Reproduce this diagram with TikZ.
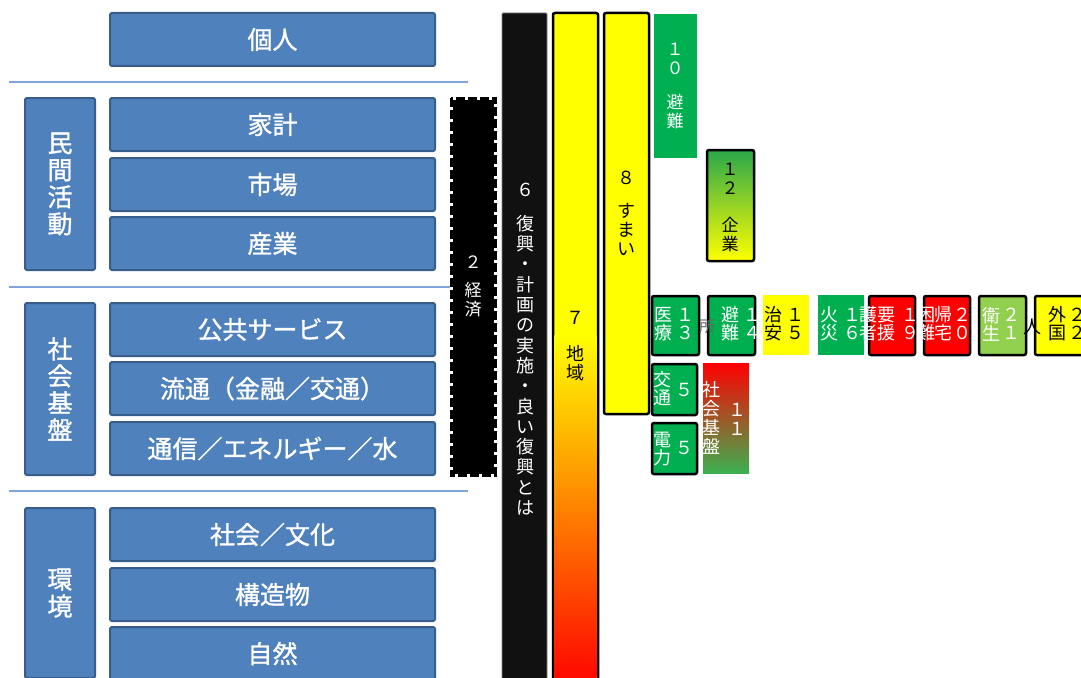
\documentclass[tikz,border=0pt]{standalone}
\usepackage{fontspec}
\newfontfamily\jp{Noto Sans CJK JP}
\newfontfamily\jpb[FakeBold=1.2]{Noto Sans CJK JP}
\definecolor{bfill}{HTML}{4F81BD}
\definecolor{bdraw}{HTML}{385D8A}
\definecolor{lline}{HTML}{7EA6DC}
\definecolor{gfill}{HTML}{00B050}
\definecolor{lgfill}{HTML}{92D050}
\definecolor{yfill}{HTML}{FFFF00}
\definecolor{rfill}{HTML}{FF0000}
\definecolor{nblack}{HTML}{111111}
\definecolor{orng}{HTML}{FF9500}
\definecolor{egreen}{HTML}{2BA84A}
\definecolor{sgreen}{HTML}{3CB050}
\tikzset{
  base/.style={anchor=north west, inner sep=0pt, outer sep=0pt},
  bbox/.style={base, draw=bdraw, line width=2pt, fill=bfill, rounded corners=2pt,
    text=white, font=\jpb\fontsize{25}{28}\selectfont},
  lbox/.style={bbox, align=center, font=\jpb\fontsize{25}{27}\selectfont},
  kbox/.style={base, draw=black, line width=2.5pt, rounded corners=2pt},
  fbox/.style={base},
  vt/.style={align=center, inner sep=0pt, font=\jp\fontsize{17}{19}\selectfont},
  vw/.style={vt, text=white},
  vk/.style={vt, text=black},
  rowt/.style={font=\jp\fontsize{18}{18}\selectfont},
  sepline/.style={lline, line width=1.5pt}
}
\begin{document}
\begin{tikzpicture}[x=1pt,y=-1pt]
\clip (0,0) rectangle (1081,677);
\fill[white] (0,0) rectangle (1081,677);

% left blue blocks
\node[bbox, minimum width=325pt, minimum height=53pt] (kojin) at (110,13) {個人};
\node[bbox, minimum width=325pt, minimum height=53pt] (kakei) at (110,98) {家計};
\node[bbox, minimum width=325pt, minimum height=53pt] (shijo) at (110,158) {市場};
\node[bbox, minimum width=325pt, minimum height=53pt] (sangyo) at (110,217) {産業};
\node[bbox, minimum width=325pt, minimum height=53pt] (kokyo) at (110,303) {公共サービス};
\node[bbox, minimum width=325pt, minimum height=53pt] (ryutsu) at (110,362) {流通（金融／交通）};
\node[bbox, minimum width=325pt, minimum height=53pt] (tsushin) at (110,422) {通信／エネルギー／水};
\node[bbox, minimum width=325pt, minimum height=53pt] (bunka) at (110,508) {社会／文化};
\node[bbox, minimum width=325pt, minimum height=53pt] (kozo) at (110,568) {構造物};
\node[bbox, minimum width=325pt, minimum height=53pt] (shizen) at (110,627) {自然};

\node[lbox, minimum width=70pt, minimum height=172pt] (minkan) at (25,98) {民\\間\\活\\動};
\node[lbox, minimum width=70pt, minimum height=172pt] (kiban) at (25,303) {社\\会\\基\\盤};
\node[lbox, minimum width=70pt, minimum height=170pt] (kankyo) at (25,508) {環\\境};

\draw[sepline] (9,82) -- (468,82);
\draw[sepline] (9,287) -- (468,287);
\draw[sepline] (9,491) -- (468,491);

% 2 keizai
\node[base, fill=black, draw=white, line width=3pt, minimum width=44pt, minimum height=377pt] (keizai) at (451,98) {};
\draw[black, line width=3pt, dash pattern=on 9pt off 3pt] (keizai.north west) rectangle (keizai.south east);
\node[vw] (k2n) at (473,262) {２};
\node[vw] (k2t) at (473,300) {経\\済};

% 6 fukko
\node[base, fill=nblack, draw=gray, line width=0.8pt, rounded corners=1pt, minimum width=45pt, minimum height=680pt] (b6) at (502,13) {};
\node[vw, font=\jp\fontsize{18}{20.3}\selectfont] (t6n) at (525,190) {６};
\node[vw, font=\jp\fontsize{18}{20.3}\selectfont, anchor=north] (t6) at (525,215) {復\\興\\・\\計\\画\\の\\実\\施\\・\\良\\い\\復\\興\\と\\は};

% 7 chiiki
\node[kbox, fill=yfill, minimum width=45pt, minimum height=680pt] (b7) at (553,13) {};
\shade[top color=yfill, middle color=orng, bottom color=rfill] (554.3,335) rectangle (596.7,690);
\draw[black, line width=2.5pt] (b7.north west) -- (b7.south west) (b7.north east) -- (b7.south east);
\node[vk, font=\jp\fontsize{18}{19}\selectfont] (t7n) at (575,318) {７};
\node[vk, font=\jp\fontsize{18}{19}\selectfont] (t7) at (575,363) {地\\域};

% 8 sumai
\node[kbox, fill=yfill, minimum width=45pt, minimum height=401pt] (b8) at (604,13) {};
\node[vk, font=\jp\fontsize{18}{19}\selectfont] (t8n) at (626,178) {８};
\node[vk, font=\jp\fontsize{18}{19}\selectfont] (t8) at (626,229) {す\\ま\\い};

% 10 hinan
\node[fbox, fill=gfill, minimum width=43pt, minimum height=144pt] (b10) at (654,14) {};
\node[vw] (t10n) at (675,59) {１\\０};
\node[vw] (t10) at (675,112) {避\\難};

% 12 kigyo
\node[kbox, top color=egreen, bottom color=yfill, minimum width=47pt, minimum height=111pt] (b12) at (707,150) {};
\node[vk] (t12n) at (730,179) {１\\２};
\node[vk] (t12) at (730,235) {企\\業};

% row of small boxes
\node[kbox, fill=gfill, minimum width=47pt, minimum height=59pt] (b13) at (652,296) {};
\node[vw, rowt] (t13a) at (663,324) {医\\療};
\node[vw, rowt] (t13b) at (685,324) {１\\３};

\node[kbox, fill=gfill, minimum width=47pt, minimum height=59pt] (b14) at (708,296) {};
\node[vt, text=black!60, font=\jp\fontsize{16}{18}\selectfont] (t14x) at (707,327) {所};
\node[vw, rowt] (t14a) at (730,324) {避\\難};
\node[vw, rowt] (t14b) at (752,324) {１\\４};

\node[fbox, fill=yfill, minimum width=46pt, minimum height=60pt] (b15) at (763,295) {};
\node[vk, rowt] (t15a) at (773,324) {治\\安};
\node[vk, rowt] (t15b) at (795,324) {１\\５};

\node[fbox, fill=gfill, minimum width=46pt, minimum height=60pt] (b16) at (818,295) {};
\node[vw, rowt] (t16a) at (829,324) {火\\災};
\node[vw, rowt] (t16b) at (852,324) {１\\６};

\node[kbox, fill=rfill, minimum width=46pt, minimum height=59pt] (b19) at (869,296) {};
\node[vw, rowt] (t19x) at (868,324) {護\\者};
\node[vw, rowt] (t19a) at (886,324) {要\\援};
\node[vw, rowt] (t19b) at (910,324) {１\\９};

\node[kbox, fill=rfill, minimum width=46pt, minimum height=59pt] (b20) at (924,296) {};
\node[vw, rowt] (t20x) at (926,324) {困\\難};
\node[vw, rowt] (t20a) at (943,324) {帰\\宅};
\node[vw, rowt] (t20b) at (962,324) {２\\０};

\node[kbox, fill=lgfill, minimum width=47pt, minimum height=59pt] (b21) at (979,296) {};
\node[vw, rowt] (t21a) at (991,324) {衛\\生};
\node[vw, rowt] (t21b) at (1011,324) {２\\１};

\node[kbox, fill=yfill, minimum width=60pt, minimum height=59pt] (b22) at (1035,296) {};
\node[vk, rowt] (t22x) at (1032,327) {人};
\node[vk, rowt] (t22a) at (1057,324) {外\\国};
\node[vk, rowt] (t22b) at (1077,324) {２\\２};

% lower small boxes
\node[kbox, fill=gfill, minimum width=45pt, minimum height=51pt] (b5a) at (652,364) {};
\node[vw, rowt] (t5aa) at (662,389) {交\\通};
\node[vw, rowt] (t5ab) at (684,390) {５};

\node[kbox, fill=gfill, minimum width=45pt, minimum height=51pt] (b5b) at (652,423) {};
\node[vw, rowt] (t5ba) at (662,449) {電\\力};
\node[vw, rowt] (t5bb) at (684,448) {５};

\node[fbox, top color=rfill, bottom color=sgreen, minimum width=46pt, minimum height=110pt] (b11) at (703,363) {};
\node[vw, font=\jp\fontsize{18}{19}\selectfont] (t11a) at (711,418) {社\\会\\基\\盤};
\node[vw, font=\jp\fontsize{18}{19}\selectfont] (t11b) at (737,419) {１\\１};
\end{tikzpicture}
\end{document}
